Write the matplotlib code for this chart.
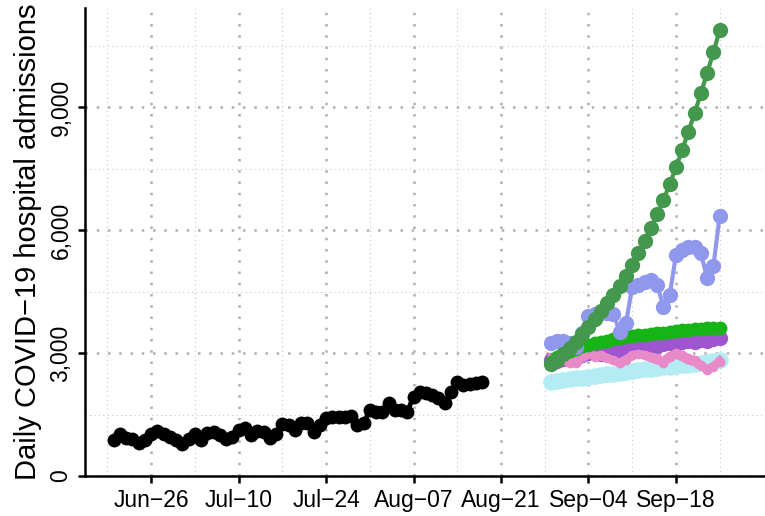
import numpy as np
import pandas as pd
import matplotlib
matplotlib.use('Agg')
import matplotlib.pyplot as plt
import matplotlib.dates as mdates
from matplotlib.ticker import FixedLocator, FuncFormatter

plt.rcParams['font.family'] = ['Liberation Sans', 'DejaVu Sans']

# observed admissions, Jun 20 - Aug 18
obs_dates = pd.date_range('2021-06-20', '2021-08-18')
obs_vals = [878, 1024, 919, 894, 813, 878, 1024, 1106, 1024, 943,
            878, 780, 894, 1024, 878, 1057, 1081, 1000, 894, 960,
            1122, 1163, 1000, 1106, 1081, 919, 1024, 1268, 1244, 1122,
            1301, 1285, 1081, 1244, 1407, 1447, 1431, 1431, 1463, 1244,
            1285, 1610, 1569, 1569, 1772, 1610, 1610, 1569, 1935, 2057,
            2016, 1975, 1894, 1789, 2057, 2301, 2220, 2244, 2276, 2301]

# forecasts, Aug 29 - Sep 25
fc_dates = pd.date_range('2021-08-29', '2021-09-25')
fc_darkgreen = [2720, 2840, 2970, 3120, 3280, 3460, 3640, 3830, 4020, 4220,
                4420, 4634, 4878, 5139, 5431, 5740, 6057, 6390, 6732, 7122,
                7529, 7951, 8399, 8862, 9334, 9837, 10334, 10878]
fc_periwinkle = [3250, 3300, 3300, 3250, 3150, 3500, 3900, 3950, 3970, 3970,
                 3950, 3520, 3720, 4620, 4660, 4740, 4780, 4660, 4130, 4415,
                 5390, 5510, 5590, 5590, 5430, 4820, 5130, 6350]
fc_green = [2780, 2900, 2990, 3060, 3110, 3160, 3200, 3240, 3270, 3300,
            3330, 3360, 3390, 3410, 3430, 3450, 3470, 3490, 3500, 3520,
            3540, 3550, 3560, 3575, 3590, 3600, 3610, 3620]
fc_purple = [2830, 2800, 2850, 2900, 2880, 2950, 3000, 3020, 2980, 3050,
             3080, 3060, 3100, 3150, 3130, 3170, 3200, 3180, 3220, 3250,
             3230, 3280, 3300, 3280, 3320, 3300, 3340, 3360]
fc_pink = [2846, 2805, 2825, 2764, 2750, 2910, 2992, 2910, 2950, 2870,
           2825, 2750, 2825, 2950, 2975, 2950, 2910, 2870, 2750, 2910,
           2992, 2950, 2870, 2825, 2707, 2585, 2667, 2790]
fc_pink2 = [2900, 2870, 2800, 2830, 2880, 2860, 2940, 2960, 2890, 2900,
            2800, 2780, 2870, 2900, 2990, 2920, 2860, 2800, 2830, 2950,
            2940, 2880, 2800, 2760, 2650, 2620, 2700, 2840]
fc_cyan = [2300, 2320, 2340, 2360, 2380, 2400, 2420, 2440, 2460, 2480,
           2500, 2520, 2540, 2560, 2580, 2600, 2620, 2635, 2650, 2665,
           2680, 2700, 2715, 2730, 2750, 2770, 2800, 2830]

x_ticks = ['2021-06-26', '2021-07-10', '2021-07-24', '2021-08-07',
           '2021-08-21', '2021-09-04', '2021-09-18']
y_ticks = [0, 3000, 6000, 9000]

fig = plt.figure(figsize=(7.65, 5.16), dpi=100)
ax = fig.add_axes([0.111, 0.0775, 0.889, 0.907])

ax.plot(fc_dates, fc_cyan, color='#b4ecf4', lw=7, marker='o', ms=12, mew=0, zorder=3)
ax.plot(fc_dates, fc_purple, color='#a055d0', lw=8, marker='o', ms=11, mew=0, zorder=4)
ax.plot(fc_dates, fc_pink2, color='#e889c8', lw=5, zorder=5)
ax.plot(fc_dates, fc_pink, color='#e889c8', lw=6, marker='o', ms=7, mew=0, zorder=5)
ax.plot(fc_dates, fc_green, color='#17b317', lw=5, marker='o', ms=10, mew=0, zorder=6)
ax.plot(fc_dates, fc_periwinkle, color='#9098ee', lw=3, marker='o', ms=11, mew=0, zorder=7)
ax.plot(fc_dates, fc_darkgreen, color='#43984d', lw=3, marker='o', ms=11, mew=0, zorder=8)
ax.plot(obs_dates, obs_vals, color='black', lw=3.5, marker='o', ms=10, mew=0, zorder=9)

ax.set_xlim(mdates.date2num(pd.Timestamp('2021-06-15 10:00')),
            mdates.date2num(pd.Timestamp('2021-10-02 06:00')))
ax.set_ylim(0, 11415)

xt = [mdates.date2num(pd.Timestamp(d)) for d in x_ticks]
ax.xaxis.set_major_locator(FixedLocator(xt))
ax.xaxis.set_major_formatter(mdates.DateFormatter('%b\u2212%d'))
ax.xaxis.set_minor_locator(FixedLocator([t - 7 for t in xt] + [xt[-1] + 7]))
ax.yaxis.set_major_locator(FixedLocator(y_ticks))
ax.yaxis.set_minor_locator(FixedLocator([1500, 4500, 7500, 10500]))
ax.yaxis.set_major_formatter(FuncFormatter(lambda v, p: f'{int(v):,}'))

ax.grid(which='major', color='#b0b0b0', linestyle=(0, (1, 3.5)), lw=1.8)
ax.grid(which='minor', color='#c8c8c8', linestyle=(0, (1, 3)), lw=0.8)
ax.set_axisbelow(True)

for s in ['top', 'right']:
    ax.spines[s].set_visible(False)
for s in ['left', 'bottom']:
    ax.spines[s].set_linewidth(1.8)
ax.tick_params(which='major', length=5, width=1.8, labelsize=16.5, color='black', pad=4)
ax.tick_params(which='minor', length=0)
plt.setp(ax.get_yticklabels(), rotation=90, va='center')

ax.set_ylabel('Daily COVID\u221219 hospital admissions', fontsize=21, labelpad=5)

fig.savefig('out.png', dpi=100)
